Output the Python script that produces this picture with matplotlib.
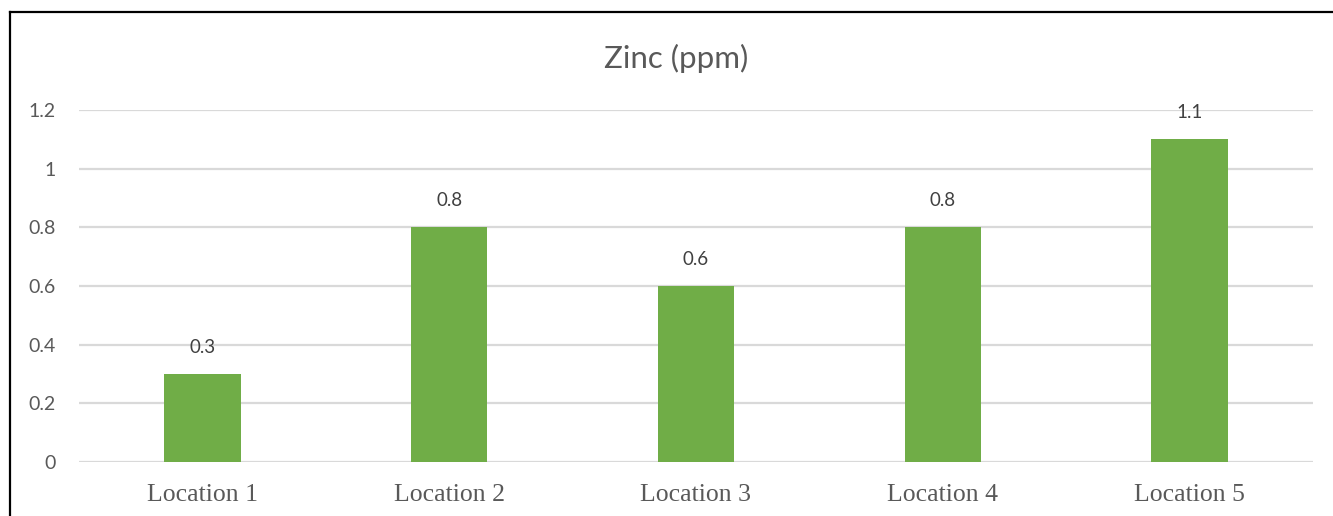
import matplotlib
matplotlib.use("Agg")
import matplotlib.pyplot as plt
from matplotlib.lines import Line2D

locations = ["Location 1", "Location 2", "Location 3", "Location 4", "Location 5"]
zinc = [0.3, 0.8, 0.6, 0.8, 1.1]
yticks = [0, 0.2, 0.4, 0.6, 0.8, 1, 1.2]
ytick_labels = ["0", "0.2", "0.4", "0.6", "0.8", "1", "1.2"]

GREEN = "#70ad47"
GRID = "#d9d9d9"
TEXT = "#595959"

fig = plt.figure(figsize=(13.33, 5.16), dpi=100)
ax = fig.add_axes([79 / 1333, 54 / 516, 1234 / 1333, 352 / 516])

x = range(len(locations))
bars = ax.bar(x, zinc, width=0.31, color=GREEN, zorder=3)
for b, v in zip(bars, zinc):
    ax.annotate(f"{v:g}", (b.get_x() + b.get_width() / 2, v),
                xytext=(0, 19), textcoords="offset points",
                ha="center", va="center", fontsize=13.5,
                family="Lato", color="#404040")

ax.set_xlim(-0.5, len(locations) - 0.5)
ax.set_ylim(0, 1.2)
ax.set_yticks(yticks)
ax.set_yticklabels(ytick_labels, family="Lato", fontsize=14, color=TEXT)
ax.set_xticks(list(x))
ax.set_xticklabels(locations, family="Liberation Serif", fontsize=18.5, color=TEXT)
ax.tick_params(axis="y", length=0, pad=17)
ax.tick_params(axis="x", length=0, pad=16)
ax.grid(axis="y", color=GRID, linewidth=1.6, zorder=0)
for s in ax.spines.values():
    s.set_visible(False)

fig.text(676 / 1333, 1 - 58 / 516, "Zinc (ppm)", ha="center", va="center",
         fontsize=22.5, family="Lato", color=TEXT)

# outer frame (cut off on the right and bottom)
fig.add_artist(Line2D([9.5 / 1333, 9.5 / 1333], [0, 1 - 12 / 516],
                      transform=fig.transFigure, color="black", linewidth=1.6))
fig.add_artist(Line2D([9.5 / 1333, 1], [1 - 12 / 516, 1 - 12 / 516],
                      transform=fig.transFigure, color="black", linewidth=1.6))

fig.savefig("out.png", dpi=100)
